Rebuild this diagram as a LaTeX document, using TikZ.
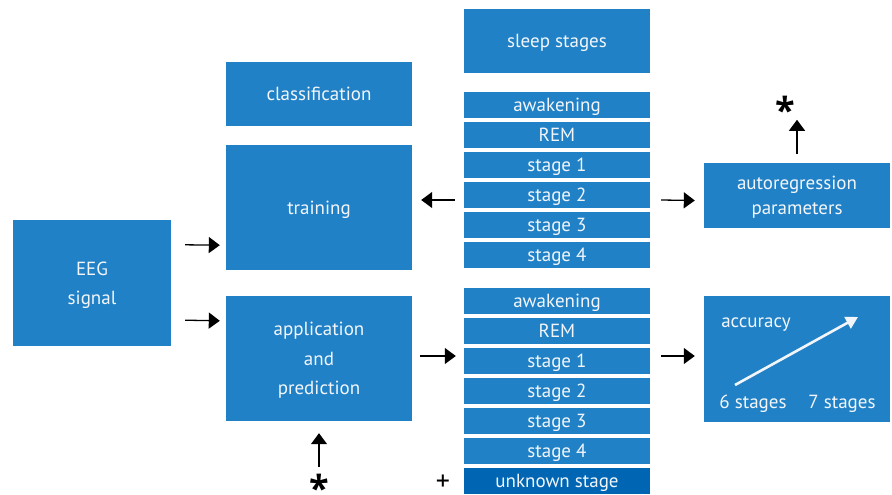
\documentclass[tikz,border=0pt]{standalone}
\usepackage{fontspec}
\setmainfont{PT Sans}
\newfontfamily\starfont{Open Sans}
\usetikzlibrary{arrows.meta,calc}
\definecolor{boxblue}{HTML}{2181C6}
\definecolor{darkblue}{HTML}{0066B3}
\definecolor{txt}{HTML}{F2F6FA}
\tikzset{
  bbox/.style={fill=boxblue,draw=none,text=txt,inner sep=0pt,align=center,text depth=0pt,font=\fontsize{19}{29.5}\selectfont},
  bar/.style={bbox,minimum width=186pt,minimum height=26pt},
  plain/.style={text=txt,font=\fontsize{19}{20}\selectfont,inner sep=0pt,anchor=base},
  arr/.style={draw=black,line width=1.3pt,-{Triangle[length=11pt,width=16pt]}},
  star/.style={font=\starfont\fontsize{36}{36}\selectfont\bfseries,inner sep=0pt,anchor=base}
}
\begin{document}
\begin{tikzpicture}[x=1pt,y=-1pt]
\useasboundingbox (0,0) rectangle (892,495);
\fill[white] (0,0) rectangle (892,495);
% main boxes
\node[bbox,minimum width=158pt,minimum height=126pt] (eeg) at (92,283) {EEG\\signal};
\node[bbox,minimum width=186pt,minimum height=64pt] (class) at (319,94) {classification};
\node[bbox,minimum width=186pt,minimum height=125pt] (training) at (319,207.5) {training};
\node[bbox,minimum width=186pt,minimum height=125pt] (app) at (319,358.5) {application\\and\\prediction};
\node[bbox,minimum width=186pt,minimum height=64pt] (sleep) at (557,41) {sleep stages};
\node[bbox,minimum width=186pt,minimum height=65pt,font=\fontsize{19}{25}\selectfont] (ar) at (797,195.5) {autoregression\\parameters};
\node[bbox,minimum width=186pt,minimum height=126pt] (acc) at (797,359) {};
% top stage bars
\node[bar] (a0) at (557,105) {awakening};
\node[bar] (a1) at (557,135) {REM};
\node[bar] (a2) at (557,165) {stage 1};
\node[bar] (a3) at (557,195) {stage 2};
\node[bar] (a4) at (557,225) {stage 3};
\node[bar] (a5) at (557,255) {stage 4};
% bottom stage bars
\node[bar] (b0) at (557,301) {awakening};
\node[bar] (b1) at (557,331) {REM};
\node[bar] (b2) at (557,361) {stage 1};
\node[bar] (b3) at (557,391) {stage 2};
\node[bar] (b4) at (557,421) {stage 3};
\node[bar] (b5) at (557,451) {stage 4};
\node[bar,fill=darkblue] (b6) at (557,481) {unknown stage};
% accuracy contents
\node[plain] (acct) at (756,327) {accuracy};
\node[plain] (s6) at (753,408) {6 stages};
\node[plain] (s7) at (842,408) {7 stages};
\coordinate (accA) at (735,385);
\coordinate (accB) at (858,317);
\draw[draw=txt,line width=2.6pt,-{Triangle[length=12pt,width=13pt]}] (accA) -- (accB);
% stars and plus
\node[star] (star1) at (785,124) {\smash{*}};
\node[star] (star2) at (319,501) {\smash{*}};
\node[font=\fontsize{28}{28}\selectfont,inner sep=0pt,anchor=base] (plus) at (443,490) {+};
% arrows
\draw[arr] ([shift={(14,25)}]eeg.north east) -- ([shift={(-6,-25)}]training.south west);
\draw[arr] ([shift={(14,-26)}]eeg.south east) -- ([shift={(-6,25)}]app.north west);
\draw[arr] ([shift={(-9,5)}]a3.west) -- ([shift={(9,-7.5)}]training.east);
\draw[arr] ([shift={(11,5)}]a3.east) -- ([shift={(-9,5)}]ar.west);
\draw[arr] ([shift={(8,-2.5)}]app.east) -- ([shift={(-8,-5)}]b2.west);
\draw[arr] ([shift={(11,-5)}]b2.east) -- ([shift={(-9,-3)}]acc.west);
\draw[arr] ([shift={(0,-9)}]ar.north) -- ([shift={(0,-43)}]ar.north);
\draw[arr] ([shift={(0,46)}]app.south) -- ([shift={(0,12)}]app.south);
\end{tikzpicture}
\end{document}
